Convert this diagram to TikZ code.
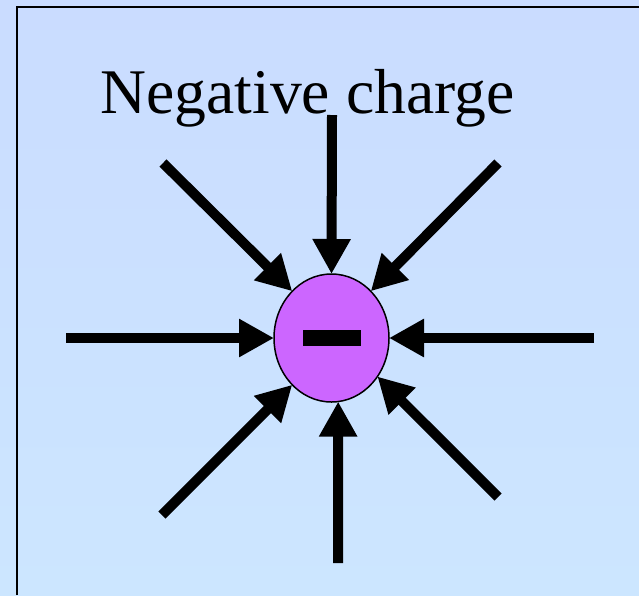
\documentclass[tikz,border=0pt]{standalone}
\usepackage{fontspec}
\setmainfont{Liberation Serif}
\usetikzlibrary{arrows.meta,shapes.geometric}
\definecolor{bgtop}{RGB}{202,220,255}
\definecolor{bgbottom}{RGB}{204,230,255}
\definecolor{chargefill}{RGB}{204,102,255}
\tikzset{
  fieldline/.style={line width=10pt, -{Triangle[length=35pt,width=36pt]}},
  charge/.style={ellipse, draw, line width=1.5pt, fill=chargefill, minimum width=115pt, minimum height=128pt, inner sep=0pt, outer sep=0pt}
}
\begin{document}
\begin{tikzpicture}[x=1pt,y=-1pt]
        % Draw background and frame
        \shade[top color=bgtop, bottom color=bgbottom] (0,0) rectangle (639,595);
        \useasboundingbox (0,0) rectangle (639,595);
        \draw[line width=2.5pt] (17,595) |- (639,7);

        % Draw label
        \node[anchor=base, inner sep=0pt, font=\fontsize{63.6}{70}\selectfont] (label) at (307.5,113) {Negative charge};

        % Draw charge
        \node[charge] (q) at (331.5,338) {};
        \node[fill=black, minimum width=58pt, minimum height=16pt, inner sep=0pt] (minus) at (332,338) {};

        % Tails of field lines
        \coordinate (t) at (332,115);
        \coordinate (b) at (338,563);
        \coordinate (l) at (66,338);
        \coordinate (r) at (594,338);
        \coordinate (tl) at (163,163);
        \coordinate (tr) at (498,163);
        \coordinate (bl) at (162,515);
        \coordinate (br) at (498,497);

        % Draw field lines
        \draw[fieldline] (t) -- (q.north);
        \draw[fieldline] (b) -- (q.-84);
        \draw[fieldline] (l) -- (q.west);
        \draw[fieldline] (r) -- (q.east);
        \draw[fieldline] (tl) -- (q.130);
        \draw[fieldline] (tr) -- (q.50);
        \draw[fieldline] (bl) -- (q.230);
        \draw[fieldline] (br) -- (q.320);
    \end{tikzpicture}
\end{document}
